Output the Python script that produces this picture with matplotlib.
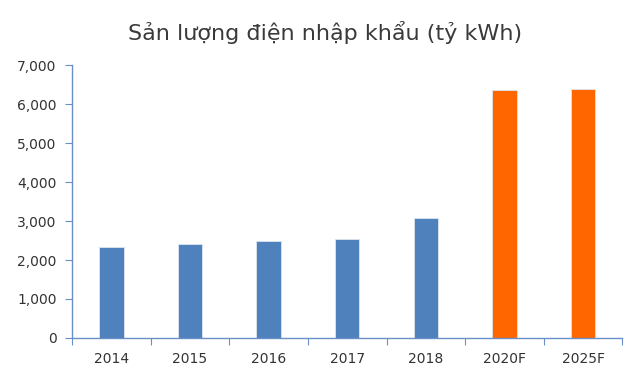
import matplotlib.pyplot as plt
from matplotlib.ticker import FuncFormatter

years = ["2014", "2015", "2016", "2017", "2018", "2020F", "2025F"]
values = [2340, 2400, 2490, 2540, 3085, 6360, 6400]
colors = ["#4F81BD"] * 5 + ["#FF6600"] * 2

fig = plt.figure(figsize=(6.4, 3.88), dpi=100)
ax = fig.add_axes([0.1125, 0.129, 0.86, 0.703])

x = range(len(years))
ax.bar(x, values, width=0.31, color=colors, edgecolor="#DDE6F0", linewidth=0.6)

ax.set_xlim(-0.5, len(years) - 0.5)
ax.set_ylim(0, 7000)
ax.set_yticks(range(0, 7001, 1000))
ax.yaxis.set_major_formatter(FuncFormatter(lambda v, p: f"{int(v):,}"))

# tick marks between categories on the x axis
ax.set_xticks([i - 0.5 for i in range(len(years) + 1)])
ax.set_xticklabels([])
ax.set_xticks(list(x), minor=True)
ax.set_xticklabels(years, minor=True)
ax.tick_params(axis="x", which="minor", length=0, pad=10, labelsize=10, labelcolor="#333333")
ax.tick_params(axis="x", which="major", length=5, color="#6A8FC7", direction="out")
ax.tick_params(axis="y", length=5, color="#6A8FC7", labelsize=10, labelcolor="#333333", pad=6)

for s in ["top", "right"]:
    ax.spines[s].set_visible(False)
for s in ["left", "bottom"]:
    ax.spines[s].set_color("#6A8FC7")
    ax.spines[s].set_linewidth(1.0)

fig.text(0.508, 0.915, "Sản lượng điện nhập khẩu (tỷ kWh)", ha="center", va="center",
         fontsize=16, color="#3A3A3A")

fig.savefig("out.png", dpi=100)
